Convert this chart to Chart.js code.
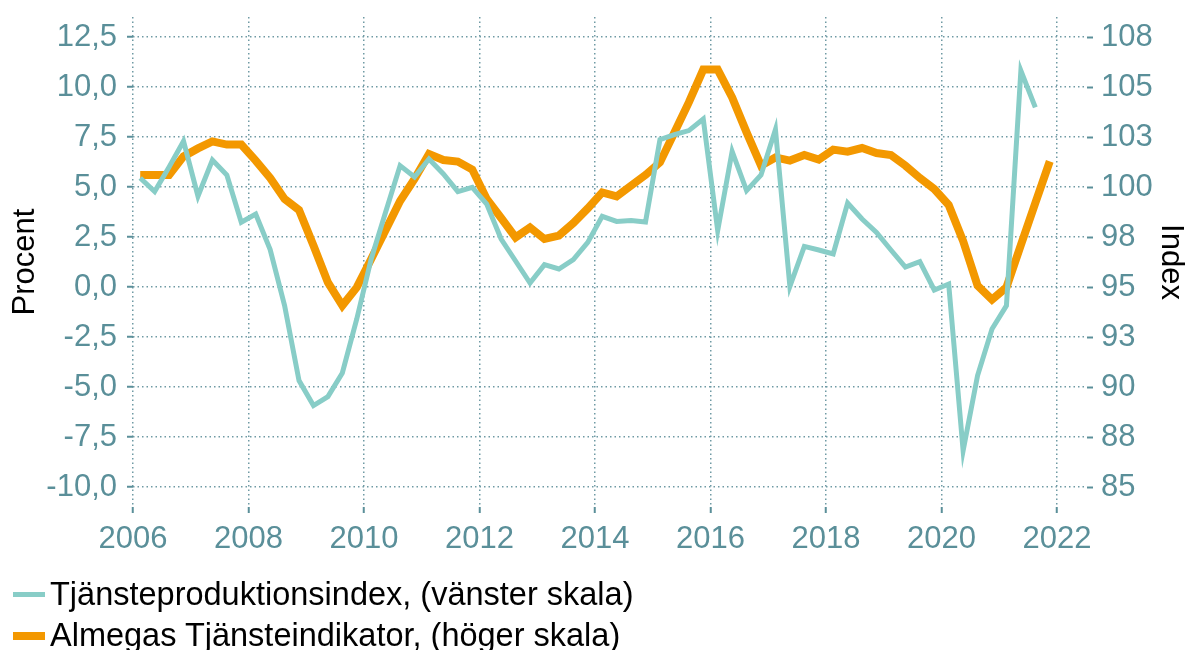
<!DOCTYPE html>
<html>
<head>
<meta charset="utf-8">
<script src="https://cdn.jsdelivr.net/npm/chart.js@4.4.0/dist/chart.umd.min.js"></script>
<style>
  body { margin: 0; background: #fff; }
  #wrap { position: relative; width: 1187px; height: 650px; }
  #legend { position: absolute; left: 13px; top: 574px; font-family: "Liberation Sans", Arial, sans-serif; font-size: 32.5px; color: #000; }
  .row { display: flex; align-items: center; height: 41px; white-space: nowrap; }
  .swatch { width: 32px; margin-right: 5px; }
</style>
</head>
<body>
<div id="wrap">
  <canvas id="chart" width="1187" height="650"></canvas>
  <div id="legend">
    <div class="row"><span class="swatch" style="height:5px;background:#88cdc7"></span>Tjänsteproduktionsindex, (vänster skala)</div>
    <div class="row"><span class="swatch" style="height:8px;background:#f39800"></span>Almegas Tjänsteindikator, (höger skala)</div>
  </div>
</div>
<script>
// Kvartal 2006K1 - 2021K4
const firstYear = 2006;
const lastYear = 2021;
const quarters = [];
for (let y = firstYear; y <= lastYear; y++) {
    for (let q = 1; q <= 4; q++) quarters.push(y + 'K' + q);
}

// Tjänsteproduktionsindex, procent (vänster skala), t.o.m. 2021K3
const tjansteproduktion = [
    5.45, 4.77, 6.0, 7.29,
    4.54, 6.35, 5.6, 3.24,
    3.65, 1.87, -0.93, -4.68,
    -5.93, -5.48, -4.3, -1.6,
    1.4, 3.75, 6.07, 5.5,
    6.4, 5.65, 4.77, 4.98,
    4.15, 2.4, 1.3, 0.2,
    1.12, 0.9, 1.37, 2.23,
    3.53, 3.28, 3.32, 3.25,
    7.37, 7.62, 7.82, 8.4,
    2.82, 6.78, 4.82, 5.6,
    7.87, 0.03, 2.03, 1.85,
    1.65, 4.2, 3.4, 2.73,
    1.85, 1.0, 1.27, -0.15,
    0.15, -8.18, -4.43, -2.1,
    -0.93, 10.82, 8.98
];

// Almegas Tjänsteindikator, index (höger skala)
const almega = [
    100.6, 100.6, 100.6, 101.53,
    101.93, 102.28, 102.12, 102.12,
    101.32, 100.45, 99.4, 98.85,
    97.07, 95.23, 94.07, 94.98,
    96.4, 97.85, 99.3, 100.4,
    101.65, 101.35, 101.27, 100.87,
    99.4, 98.45, 97.48, 97.98,
    97.4, 97.57, 98.2, 98.93,
    99.73, 99.53, 100.07, 100.6,
    101.23, 102.73, 104.23, 105.87,
    105.87, 104.48, 102.73, 101.07,
    101.48, 101.32, 101.6, 101.37,
    101.87, 101.77, 101.95, 101.7,
    101.6, 101.07, 100.45, 99.9,
    99.1, 97.3, 95.07, 94.37,
    94.98, 97.1, 99.2, 101.28
];

const leftTicks = [-10, -7.5, -5, -2.5, 0, 2.5, 5, 7.5, 10, 12.5];
const rightTicks = [85, 87.5, 90, 92.5, 95, 97.5, 100, 102.5, 105, 107.5];
const yearTicks = [2006, 2008, 2010, 2012, 2014, 2016, 2018, 2020, 2022];

// kvartal -> decimalår (mitten av kvartalet)
function toX(label) {
    const y = parseInt(label.slice(0, 4));
    const q = parseInt(label.slice(5));
    return y + (q - 0.5) / 4;
}
function points(values) {
    return values.map((v, i) => ({ x: toX(quarters[i]), y: v }));
}

const tickColor = '#5a8f99';
const gridColor = '#6f9aa4';
const font = "'Liberation Sans', Arial, sans-serif";

// ta bort extra utrymme för etiketter i kanterna
function noPad(s) {
    s.paddingTop = 0;
    s.paddingBottom = 0;
}

const ctx = document.getElementById('chart').getContext('2d');
new Chart(ctx, {
    type: 'line',
    data: {
        datasets: [
            {
                label: 'Tjänsteproduktionsindex, (vänster skala)',
                data: points(tjansteproduktion),
                borderColor: '#88cdc7',
                borderWidth: 5,
                pointRadius: 0,
                tension: 0,
                yAxisID: 'y'
            },
            {
                label: 'Almegas Tjänsteindikator, (höger skala)',
                data: points(almega),
                borderColor: '#f39800',
                borderWidth: 8,
                pointRadius: 0,
                tension: 0,
                yAxisID: 'y1'
            }
        ]
    },
    options: {
        responsive: false,
        animation: false,
        layout: { padding: { top: 17, bottom: 90, left: 0, right: 0 } },
        plugins: { legend: { display: false }, tooltip: { enabled: false } },
        scales: {
            x: {
                type: 'linear',
                min: 2006,
                max: 2022.52,
                afterBuildTicks: s => { s.ticks = yearTicks.map(v => ({ value: v })); },
                afterFit: s => { s.height = 53; s.paddingLeft = 0; s.paddingRight = 0; },
                ticks: {
                    autoSkip: false, maxRotation: 0, padding: 8,
                    color: tickColor, font: { family: font, size: 31 },
                    callback: v => String(v)
                },
                grid: { color: gridColor, lineWidth: 1.5, tickLength: 6, tickWidth: 2, tickColor: tickColor, tickBorderDash: [] },
                border: { display: false, dash: [1.5, 3] }
            },
            y: {
                position: 'left',
                min: -11,
                max: 13.5,
                afterBuildTicks: s => { s.ticks = leftTicks.map(v => ({ value: v })); },
                afterFit: s => { s.width = 133; noPad(s); },
                ticks: {
                    padding: 10, color: tickColor, font: { family: font, size: 31 },
                    callback: v => v.toFixed(1).replace('.', ',')
                },
                title: { display: true, text: 'Procent', color: '#000', font: { family: font, size: 31, lineHeight: 1 }, padding: { top: 10, bottom: 0 } },
                grid: { color: gridColor, lineWidth: 1.5, tickLength: 6, tickWidth: 2, tickColor: tickColor, tickBorderDash: [] },
                border: { display: false, dash: [1.5, 3] }
            },
            y1: {
                position: 'right',
                min: 84,
                max: 108.5,
                afterBuildTicks: s => { s.ticks = rightTicks.map(v => ({ value: v })); },
                afterFit: s => { s.width = 100; noPad(s); },
                ticks: {
                    padding: 8, color: tickColor, font: { family: font, size: 31 },
                    callback: v => String(Math.round(v))
                },
                title: { display: true, text: 'Index', color: '#000', font: { family: font, size: 31, lineHeight: 1 }, padding: { top: 1, bottom: 0 } },
                grid: { drawOnChartArea: false, tickLength: 6, tickWidth: 2, tickColor: tickColor, tickBorderDash: [] },
                border: { display: false }
            }
        }
    }
});
</script>
</body>
</html>
